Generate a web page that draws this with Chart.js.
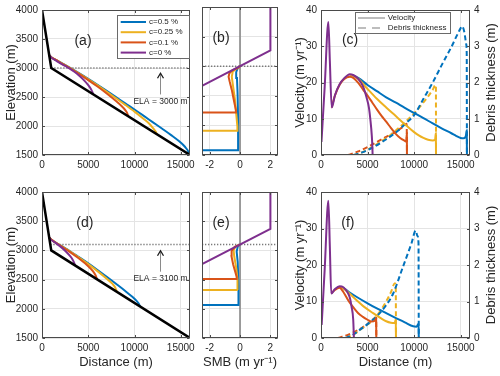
<!DOCTYPE html>
<html><head><meta charset="utf-8">
<script src="https://cdn.jsdelivr.net/npm/chart.js@4.4.1/dist/chart.umd.min.js"></script>
<style>
html,body{margin:0;padding:0;background:#fff;}
body{width:500px;height:376px;position:relative;overflow:hidden;}
canvas{position:absolute;}
</style></head><body>
<canvas id="pa" width="210" height="180" style="left:0px;top:0px"></canvas>
<canvas id="pb" width="100" height="180" style="left:196px;top:0px"></canvas>
<canvas id="pc" width="212" height="180" style="left:288px;top:0px"></canvas>
<canvas id="pd" width="210" height="196" style="left:0px;top:180px"></canvas>
<canvas id="pe" width="100" height="196" style="left:196px;top:180px"></canvas>
<canvas id="pf" width="212" height="196" style="left:288px;top:180px"></canvas>
<script>
// ---------- tick labels ----------
const distTicks = [0, 5000, 10000, 15000];
const elevTicks = [1500, 2000, 2500, 3000, 3500, 4000];
const smbTicks = [-2, 0, 2];
const velTicks = [0, 10, 20, 30, 40];
const debrisTicks = [0, 1, 2, 3, 4];
const seriesLabels = ['c=0.5 %', 'c=0.25 %', 'c=0.1 %', 'c=0 %'];

// ---------- bed ----------
const bedX = [0, 1000, 16000];
const bedZ = [4000, 3000, 1500];
const elaTop = 3000, elaBottom = 3100;
const elaLineTopX = [1000, 16000];
const elaLineBotX = [900, 16000];

// ---------- (a) surfaces ----------
const surfA_x_c05 = [780,1000,1500,2000,3000,4000,5000,6000,7000,8000,9000,10000,11000,12000,13000,14000,14800,15300,15600,15800,15880];
const surfA_z_c05 = [3220,3185,3140,3095,3005,2910,2812,2710,2605,2498,2390,2285,2175,2063,1952,1838,1740,1668,1612,1565,1515];
const surfA_x_c025 = [780,1000,1500,2000,3000,4000,5000,6000,7000,8000,9000,10000,11000,11600,12000,12300,12420];
const surfA_z_c025 = [3220,3185,3140,3093,3003,2905,2805,2700,2590,2478,2365,2248,2122,2040,1965,1900,1858];
const surfA_x_c01 = [780,1000,1500,2000,3000,4000,5000,6000,7000,8000,8600,9000,9200,9330];
const surfA_z_c01 = [3220,3185,3140,3090,2998,2898,2792,2680,2560,2430,2345,2275,2225,2167];
const surfA_x_c0 = [780,1000,1500,2000,2500,3000,3500,4000,4500,5000,5300,5450,5540];
const surfA_z_c0 = [3220,3182,3130,3080,3035,2990,2935,2870,2795,2705,2635,2585,2546];

// ---------- (d) surfaces ----------
const surfD_x_c05 = [780,1000,2000,3000,4000,5000,6000,7000,8000,9000,9800,10200,10450,10600];
const surfD_z_c05 = [3220,3185,3085,2990,2885,2778,2665,2548,2428,2305,2200,2140,2090,2042];
const surfD_x_c025 = [780,1000,2000,3000,4000,5000,6000,7000,7600,7900,8100];
const surfD_z_c025 = [3220,3185,3083,2985,2878,2765,2645,2515,2430,2370,2292];
const surfD_x_c01 = [780,1000,2000,3000,4000,5000,5500,5800,5960];
const surfD_z_c01 = [3220,3185,3080,2975,2860,2730,2645,2570,2504];
const surfD_x_c0 = [780,1000,1500,2000,2500,3000,3300,3500,3580];
const surfD_z_c0 = [3220,3180,3125,3065,2995,2910,2845,2780,2742];

// ---------- (b) SMB profiles ----------
const smbZeroX = [0, 0];
const smbZeroZ = [1500, 4000];
const smbB_x_c0 = [-2.5, 2, 2];
const smbB_z_c0 = [2667, 3267, 4000];
const smbB_x_c01 = [-2.5,-0.27,-0.27,-0.4,-0.54,-0.68,-0.75,-0.7,-0.5,-0.2,0];
const smbB_z_c01 = [2220,2220,2260,2420,2600,2740,2820,2880,2930,2965,3000];
const smbB_x_c025 = [-2.5,-0.17,-0.17,-0.25,-0.33,-0.45,-0.54,-0.48,-0.3,-0.1,0];
const smbB_z_c025 = [1910,1910,1980,2200,2430,2650,2820,2905,2950,2975,3000];
const smbB_x_c05 = [-2.5,-0.13,-0.12,-0.13,-0.16,-0.2,-0.25,-0.18,-0.06,0];
const smbB_z_c05 = [1580,1580,1640,2100,2550,2800,2900,2950,2985,3000];

// ---------- (e) SMB profiles ----------
const smbE_x_c0 = [-2.5, 2, 2];
const smbE_z_c0 = [2767, 3367, 4000];
const smbE_x_c01 = [-2.5,-0.22,-0.22,-0.3,-0.45,-0.56,-0.55,-0.35,-0.1,0];
const smbE_z_c01 = [2510,2510,2545,2620,2760,2900,2990,3060,3090,3100];
const smbE_x_c025 = [-2.5,-0.15,-0.15,-0.18,-0.25,-0.38,-0.42,-0.3,-0.1,0];
const smbE_z_c025 = [2320,2320,2340,2500,2700,2900,3000,3060,3090,3100];
const smbE_x_c05 = [-2.5,-0.1,-0.1,-0.1,-0.15,-0.22,-0.15,-0.05,0];
const smbE_z_c05 = [2065,2065,2080,2400,2800,2980,3060,3090,3100];

// ---------- (c) velocity and debris ----------
const velC_x_c0 = [50,400,790,950,1150,1500,2000,2500,3100,3500,4000,4500,4900,5150,5300,5450,5520,5540];
const velC_v_c0 = [3.6,19,36.7,26,13.1,16.5,19.5,21.2,22.3,22,21,19,15.8,13,9.8,5.5,2,0];
const velC_x_c01 = [1150,1500,2000,2500,3100,3500,4000,4500,5000,5500,6000,6500,7000,7500,8000,8500,9000,9150,9220,9230];
const velC_v_c01 = [13.1,16.4,19.4,21,21.6,21.2,19.9,18.1,16.4,14.5,12.6,10.8,9.2,7.5,5.9,4.7,3.9,3.7,6.0,0];
const velC_x_c025 = [3100,3500,4000,5000,6000,7000,8000,9000,10000,10500,11000,11500,12000,12250,12330,12350];
const velC_v_c025 = [22,21.8,21,18.2,15.5,13.1,10.8,8.5,6.3,5.4,4.7,4.2,4.0,4.2,6.0,0];
const velC_x_c05 = [3100,3500,4000,5000,6000,7000,8000,9000,10000,11000,12000,13000,14000,14500,15000,15300,15550,15650,15670];
const velC_v_c05 = [22,21.9,21.3,19.3,17.6,15.9,14.5,13.0,11.6,10.2,8.7,7.3,6.0,5.3,4.7,4.6,5.2,6.8,0];
const debC_x_c05 = [3500,4500,5500,6500,7500,8500,9000,10000,11000,12000,13000,14000,14600,15000,15150,15400,15600,15650,15670];
const debC_d_c05 = [0,0.08,0.2,0.35,0.52,0.72,0.85,1.1,1.55,2.0,2.5,2.98,3.3,3.5,3.55,3.38,3.05,2.75,0];
const debC_x_c025 = [3500,4500,5500,6500,7500,8500,9000,10000,11000,12000,12300,12340,12350];
const debC_d_c025 = [0,0.08,0.22,0.38,0.56,0.78,0.9,1.15,1.45,1.8,1.93,1.93,0];
const debC_x_c01 = [2900,4000,5000,6000,7000,8000,8600,9000,9200,9230];
const debC_d_c01 = [0,0.1,0.22,0.36,0.5,0.64,0.74,0.82,0.86,0];

// ---------- (f) velocity and debris ----------
const velF_x_c0 = [70,400,790,950,1100,1500,2000,2400,2900,3100,3280,3460,3534];
const velF_v_c0 = [3.6,19,37.6,25,12.2,13.4,14.2,13.9,12.3,11,8.6,5,0];
const velF_x_c01 = [1100,1500,2000,2400,3000,3500,4000,4500,5000,5400,5800,5920,5940];
const velF_v_c01 = [12.2,13.2,13.8,12.6,10,8.3,6.8,5.8,5.0,4.5,4.8,5.5,0];
const velF_x_c025 = [2000,2400,3000,3800,4500,5600,6500,7000,7500,7900,8030,8050];
const velF_v_c025 = [14,13.6,12.3,10.4,8.8,6.8,5.3,4.6,4.2,4.1,5.0,0];
const velF_x_c05 = [2000,2400,3000,3800,5000,6000,7000,8100,9000,9900,10250,10480,10500];
const velF_v_c05 = [14,13.7,12.6,11.3,9.5,8.1,6.8,5.4,4.3,3.2,3.1,3.9,0];
const debF_x_c05 = [2600,3500,4200,5000,6000,7000,7750,8800,9700,10170,10350,10470,10500];
const debF_d_c05 = [0,0.1,0.23,0.38,0.6,0.9,1.22,1.95,2.58,2.94,2.8,2.6,0];
const debF_x_c025 = [2700,3500,4500,5600,6680,7500,7930,8030,8050];
const debF_d_c025 = [0,0.1,0.28,0.5,0.86,1.25,1.5,1.45,0];
const debF_x_c01 = [1800,3000,4000,5000,5900,5930,5940];
const debF_d_c01 = [0,0.1,0.22,0.38,0.55,0.55,0];

// ---------- styling ----------
const C_BLUE = '#0072BD', C_YEL = '#EDB120', C_RED = '#D95319', C_PUR = '#7E2F8E';
const FONT = '"Liberation Sans", Arial, Helvetica, sans-serif';
const TXT = '#262626', GRID = '#e4e4e4', AXC = '#4a4a4a';

function pts(xs, ys) { return xs.map((x, i) => ({ x: x, y: ys[i] })); }
function ln(xs, ys, color, width, order, extra) {
  return Object.assign({ data: pts(xs, ys), borderColor: color, backgroundColor: color, borderWidth: width,
    pointRadius: 0, pointHoverRadius: 0, showLine: true, fill: false, tension: 0, order: order }, extra || {});
}
const smooth = { cubicInterpolationMode: 'monotone', tension: 0.4 };

function axisX(min, max, ticks, h, title, padB) {
  return { type: 'linear', position: 'bottom', min: min, max: max,
    afterBuildTicks: s => { s.ticks = ticks.map(v => ({ value: v })); },
    afterFit: s => { s.height = h; },
    grid: { color: GRID, drawTicks: false, lineWidth: 1 },
    border: { display: false },
    ticks: { padding: 4, color: TXT, font: { family: FONT, size: 10 }, maxRotation: 0, minRotation: 0, autoSkip: false, callback: v => String(v) },
    title: title ? { display: true, text: title, color: TXT, font: { family: FONT, size: 13 }, padding: { top: 0, bottom: padB } } : { display: false }
  };
}
function axisY(pos, min, max, ticks, w, labels, title, padT, grid) {
  return { type: 'linear', position: pos, min: min, max: max,
    afterBuildTicks: s => { s.ticks = ticks.map(v => ({ value: v })); },
    afterFit: s => { s.width = w; },
    grid: { color: GRID, drawTicks: false, lineWidth: 1, drawOnChartArea: grid },
    border: { display: false },
    ticks: { display: labels, padding: 4, color: TXT, font: { family: FONT, size: 10 }, autoSkip: false, callback: v => String(v) },
    title: title ? { display: true, text: title, color: TXT, font: { family: FONT, size: 13 }, padding: { top: padT, bottom: 0 } } : { display: false }
  };
}

const framePlugin = {
  id: 'frame',
  afterDatasetsDraw(chart) {
    const { ctx, chartArea: a, scales } = chart;
    ctx.save();
    ctx.strokeStyle = AXC; ctx.lineWidth = 1;
    const L = Math.round(a.left) + 0.5, R = Math.round(a.right) - 0.5, T = Math.round(a.top) + 0.5, B = Math.round(a.bottom) - 0.5;
    ctx.strokeRect(L, T, R - L, B - T);
    const tl = 2.5;
    ctx.beginPath();
    scales.x.ticks.forEach(t => { const p = Math.round(scales.x.getPixelForValue(t.value)) + 0.5; ctx.moveTo(p, B); ctx.lineTo(p, B - tl); ctx.moveTo(p, T); ctx.lineTo(p, T + tl); });
    scales.y.ticks.forEach(t => { const p = Math.round(scales.y.getPixelForValue(t.value)) + 0.5; ctx.moveTo(L, p); ctx.lineTo(L + tl, p); if (!scales.y2) { ctx.moveTo(R, p); ctx.lineTo(R - tl, p); } });
    if (scales.y2) scales.y2.ticks.forEach(t => { const p = Math.round(scales.y2.getPixelForValue(t.value)) + 0.5; ctx.moveTo(R, p); ctx.lineTo(R - tl, p); });
    ctx.stroke();
    ctx.restore();
  }
};

const extrasPlugin = {
  id: 'extras',
  afterDraw(chart, args, o) {
    const { ctx, chartArea: a, scales } = chart;
    const W = a.right - a.left, H = a.bottom - a.top;
    ctx.save();
    if (o.panel) {
      ctx.font = '14px ' + FONT; ctx.fillStyle = TXT; ctx.textAlign = 'center'; ctx.textBaseline = 'middle';
      ctx.fillText(o.panel.text, a.left + o.panel.fx * W, a.top + o.panel.fy * H);
    }
    if (o.ela) {
      const x = Math.round(scales.x.getPixelForValue(o.ela.x)) + 0.5;
      const yTip = scales.y.getPixelForValue(o.ela.tip), yBase = scales.y.getPixelForValue(o.ela.base), yTxt = scales.y.getPixelForValue(o.ela.textAt);
      ctx.strokeStyle = '#8a8a8a'; ctx.lineWidth = 1;
      ctx.beginPath(); ctx.moveTo(x, yBase); ctx.lineTo(x, yTip + 1); ctx.stroke();
      ctx.strokeStyle = '#1a1a1a'; ctx.lineWidth = 1.3;
      ctx.beginPath(); ctx.moveTo(x - 3, yTip + 5); ctx.lineTo(x, yTip); ctx.lineTo(x + 3, yTip + 5); ctx.stroke();
      ctx.font = '8.5px ' + FONT; ctx.fillStyle = TXT; ctx.textAlign = 'center'; ctx.textBaseline = 'middle';
      ctx.fillText(o.ela.text, x, yTxt);
    }
    if (o.legend) {
      const g = o.legend;
      ctx.fillStyle = '#fff'; ctx.fillRect(a.left + g.x0, a.top + g.y0, g.x1 - g.x0, g.y1 - g.y0);
      ctx.strokeStyle = '#6a6a6a'; ctx.lineWidth = 1;
      ctx.strokeRect(Math.round(a.left + g.x0) + 0.5, Math.round(a.top + g.y0) + 0.5, Math.round(g.x1 - g.x0), Math.round(g.y1 - g.y0));
      g.rows.forEach((r, i) => {
        const y = a.top + g.firstY + i * g.rowH;
        ctx.strokeStyle = r.color; ctx.lineWidth = 2; ctx.setLineDash(r.dash || []);
        ctx.beginPath(); ctx.moveTo(a.left + g.lx0, y); ctx.lineTo(a.left + g.lx1, y); ctx.stroke();
        ctx.setLineDash([]);
        ctx.font = '8px ' + FONT; ctx.fillStyle = TXT; ctx.textAlign = 'left'; ctx.textBaseline = 'middle';
        ctx.fillText(r.label, a.left + g.tx, y);
      });
    }
    if (o.rightTitle) {
      ctx.translate(a.right + o.rightTitle.dx, (a.top + a.bottom) / 2);
      ctx.rotate(-Math.PI / 2);
      ctx.font = '13px ' + FONT; ctx.fillStyle = TXT; ctx.textAlign = 'center'; ctx.textBaseline = 'middle';
      ctx.fillText(o.rightTitle.text, 0, 0);
    }
    ctx.restore();
  }
};

const base = { responsive: false, animation: false, events: [] };
function mk(id, datasets, scales, padding, extras) {
  return new Chart(document.getElementById(id), {
    type: 'scatter',
    data: { datasets: datasets },
    options: Object.assign({}, base, {
      layout: { padding: padding },
      scales: scales,
      plugins: { legend: { display: false }, tooltip: { enabled: false }, extras: extras }
    }),
    plugins: [framePlugin, extrasPlugin]
  });
}

const dotted = { borderDash: [1.3, 1.7] };
const dashed = { borderDash: [5, 3] };

// ---------- (a) ----------
mk('pa', [
  ln(bedX, bedZ, '#000', 2.5, 0),
  ln(surfA_x_c0, surfA_z_c0, C_PUR, 2, 1, smooth),
  ln(surfA_x_c01, surfA_z_c01, C_RED, 2, 2, smooth),
  ln(surfA_x_c025, surfA_z_c025, C_YEL, 2, 3, smooth),
  ln(surfA_x_c05, surfA_z_c05, C_BLUE, 2, 4, smooth),
  ln(elaLineTopX, [elaTop, elaTop], '#7a7a7a', 1.4, 5, dotted)
], {
  x: axisX(0, 16000, distTicks, 25, null, 0),
  y: axisY('left', 1500, 4000, elevTicks, 42, true, 'Elevation (m)', 3.5, true)
}, { top: 7, right: 20, left: 0, bottom: 0 }, {
  panel: { text: '(a)', fx: 0.277, fy: 0.216 },
  ela: { x: 12750, tip: 2910, base: 2544, textAt: 2419, text: 'ELA = ' + elaTop + ' m' },
  legend: { x0: 75, y0: 5.3, x1: 147, y1: 48, firstY: 12, rowH: 10.2, lx0: 78.7, lx1: 104, tx: 107,
    rows: [{ label: seriesLabels[0], color: C_BLUE }, { label: seriesLabels[1], color: C_YEL }, { label: seriesLabels[2], color: C_RED }, { label: seriesLabels[3], color: C_PUR }] }
});

// ---------- (b) ----------
mk('pb', [
  ln(smbB_x_c0, smbB_z_c0, C_PUR, 2, 1),
  ln(smbB_x_c01, smbB_z_c01, C_RED, 2, 2),
  ln(smbB_x_c025, smbB_z_c025, C_YEL, 2, 3),
  ln(smbB_x_c05, smbB_z_c05, C_BLUE, 2, 4),
  ln([-2.5, 2.5], [elaTop, elaTop], '#7a7a7a', 1.4, 6, dotted),
  ln(smbZeroX, smbZeroZ, '#808080', 1.5, 7)
], {
  x: axisX(-2.5, 2.5, smbTicks, 25, null, 0),
  y: axisY('left', 1500, 4000, elevTicks, 0, false, null, 0, true)
}, { top: 7, right: 18, left: 6, bottom: 0 }, {
  panel: { text: '(b)', fx: 0.25, fy: 0.21 }
});

// ---------- (c) ----------
mk('pc', [
  ln(velC_x_c0, velC_v_c0, C_PUR, 2, 1, Object.assign({ yAxisID: 'y' }, smooth)),
  ln(velC_x_c01, velC_v_c01, C_RED, 2, 2, Object.assign({ yAxisID: 'y' }, smooth)),
  ln(velC_x_c025, velC_v_c025, C_YEL, 2, 3, Object.assign({ yAxisID: 'y' }, smooth)),
  ln(velC_x_c05, velC_v_c05, C_BLUE, 2, 4, Object.assign({ yAxisID: 'y' }, smooth)),
  ln(debC_x_c05, debC_d_c05, C_BLUE, 2, 5, Object.assign({ yAxisID: 'y2' }, smooth, dashed)),
  ln(debC_x_c025, debC_d_c025, C_YEL, 2, 6, Object.assign({ yAxisID: 'y2' }, smooth, dashed)),
  ln(debC_x_c01, debC_d_c01, C_RED, 2, 7, Object.assign({ yAxisID: 'y2' }, smooth, dashed))
], {
  x: axisX(0, 16000, distTicks, 25, null, 0),
  y: axisY('left', 0, 40, velTicks, 33, true, 'Velocity (m yr\u207B\u00B9)', 4.2, true),
  y2: axisY('right', 0, 4, debrisTicks, 30, true, null, 0, false)
}, { top: 7, right: 0, left: 0, bottom: 0 }, {
  panel: { text: '(c)', fx: 0.195, fy: 0.21 },
  rightTitle: { text: 'Debris thickness (m)', dx: 21 },
  legend: { x0: 34, y0: 2, x1: 129, y1: 23, firstY: 8, rowH: 10, lx0: 37, lx1: 64, tx: 66.7,
    rows: [{ label: 'Velocity', color: '#bdbdbd' }, { label: 'Debris thickness', color: '#bdbdbd', dash: [8, 6] }] }
});

// ---------- (d) ----------
mk('pd', [
  ln(bedX, bedZ, '#000', 2.5, 0),
  ln(surfD_x_c0, surfD_z_c0, C_PUR, 2, 1, smooth),
  ln(surfD_x_c01, surfD_z_c01, C_RED, 2, 2, smooth),
  ln(surfD_x_c025, surfD_z_c025, C_YEL, 2, 3, smooth),
  ln(surfD_x_c05, surfD_z_c05, C_BLUE, 2, 4, smooth),
  ln(elaLineBotX, [elaBottom, elaBottom], '#7a7a7a', 1.4, 5, dotted)
], {
  x: axisX(0, 16000, distTicks, 38, 'Distance (m)', 5.7),
  y: axisY('left', 1500, 4000, elevTicks, 42, true, 'Elevation (m)', 3.5, true)
}, { top: 12, right: 20, left: 0, bottom: 0 }, {
  panel: { text: '(d)', fx: 0.29, fy: 0.212 },
  ela: { x: 12750, tip: 2994, base: 2636, textAt: 2523, text: 'ELA = ' + elaBottom + ' m' }
});

// ---------- (e) ----------
mk('pe', [
  ln(smbE_x_c0, smbE_z_c0, C_PUR, 2, 1),
  ln(smbE_x_c01, smbE_z_c01, C_RED, 2, 2),
  ln(smbE_x_c025, smbE_z_c025, C_YEL, 2, 3),
  ln(smbE_x_c05, smbE_z_c05, C_BLUE, 2, 4),
  ln([-2.5, 2.5], [elaBottom, elaBottom], '#7a7a7a', 1.4, 6, dotted),
  ln(smbZeroX, smbZeroZ, '#808080', 1.5, 7)
], {
  x: axisX(-2.5, 2.5, smbTicks, 38, 'SMB (m yr\u207B\u00B9)', 5.7),
  y: axisY('left', 1500, 4000, elevTicks, 0, false, null, 0, true)
}, { top: 12, right: 18, left: 6, bottom: 0 }, {
  panel: { text: '(e)', fx: 0.25, fy: 0.212 }
});

// ---------- (f) ----------
mk('pf', [
  ln(velF_x_c0, velF_v_c0, C_PUR, 2, 1, Object.assign({ yAxisID: 'y' }, smooth)),
  ln(velF_x_c01, velF_v_c01, C_RED, 2, 2, Object.assign({ yAxisID: 'y' }, smooth)),
  ln(velF_x_c025, velF_v_c025, C_YEL, 2, 3, Object.assign({ yAxisID: 'y' }, smooth)),
  ln(velF_x_c05, velF_v_c05, C_BLUE, 2, 4, Object.assign({ yAxisID: 'y' }, smooth)),
  ln(debF_x_c05, debF_d_c05, C_BLUE, 2, 5, Object.assign({ yAxisID: 'y2' }, smooth, dashed)),
  ln(debF_x_c025, debF_d_c025, C_YEL, 2, 6, Object.assign({ yAxisID: 'y2' }, smooth, dashed)),
  ln(debF_x_c01, debF_d_c01, C_RED, 2, 7, Object.assign({ yAxisID: 'y2' }, smooth, dashed))
], {
  x: axisX(0, 16000, distTicks, 38, 'Distance (m)', 5.7),
  y: axisY('left', 0, 40, velTicks, 33, true, 'Velocity (m yr\u207B\u00B9)', 4.2, true),
  y2: axisY('right', 0, 4, debrisTicks, 30, true, null, 0, false)
}, { top: 12, right: 0, left: 0, bottom: 0 }, {
  panel: { text: '(f)', fx: 0.18, fy: 0.212 },
  rightTitle: { text: 'Debris thickness (m)', dx: 21 }
});
</script>
</body></html>
